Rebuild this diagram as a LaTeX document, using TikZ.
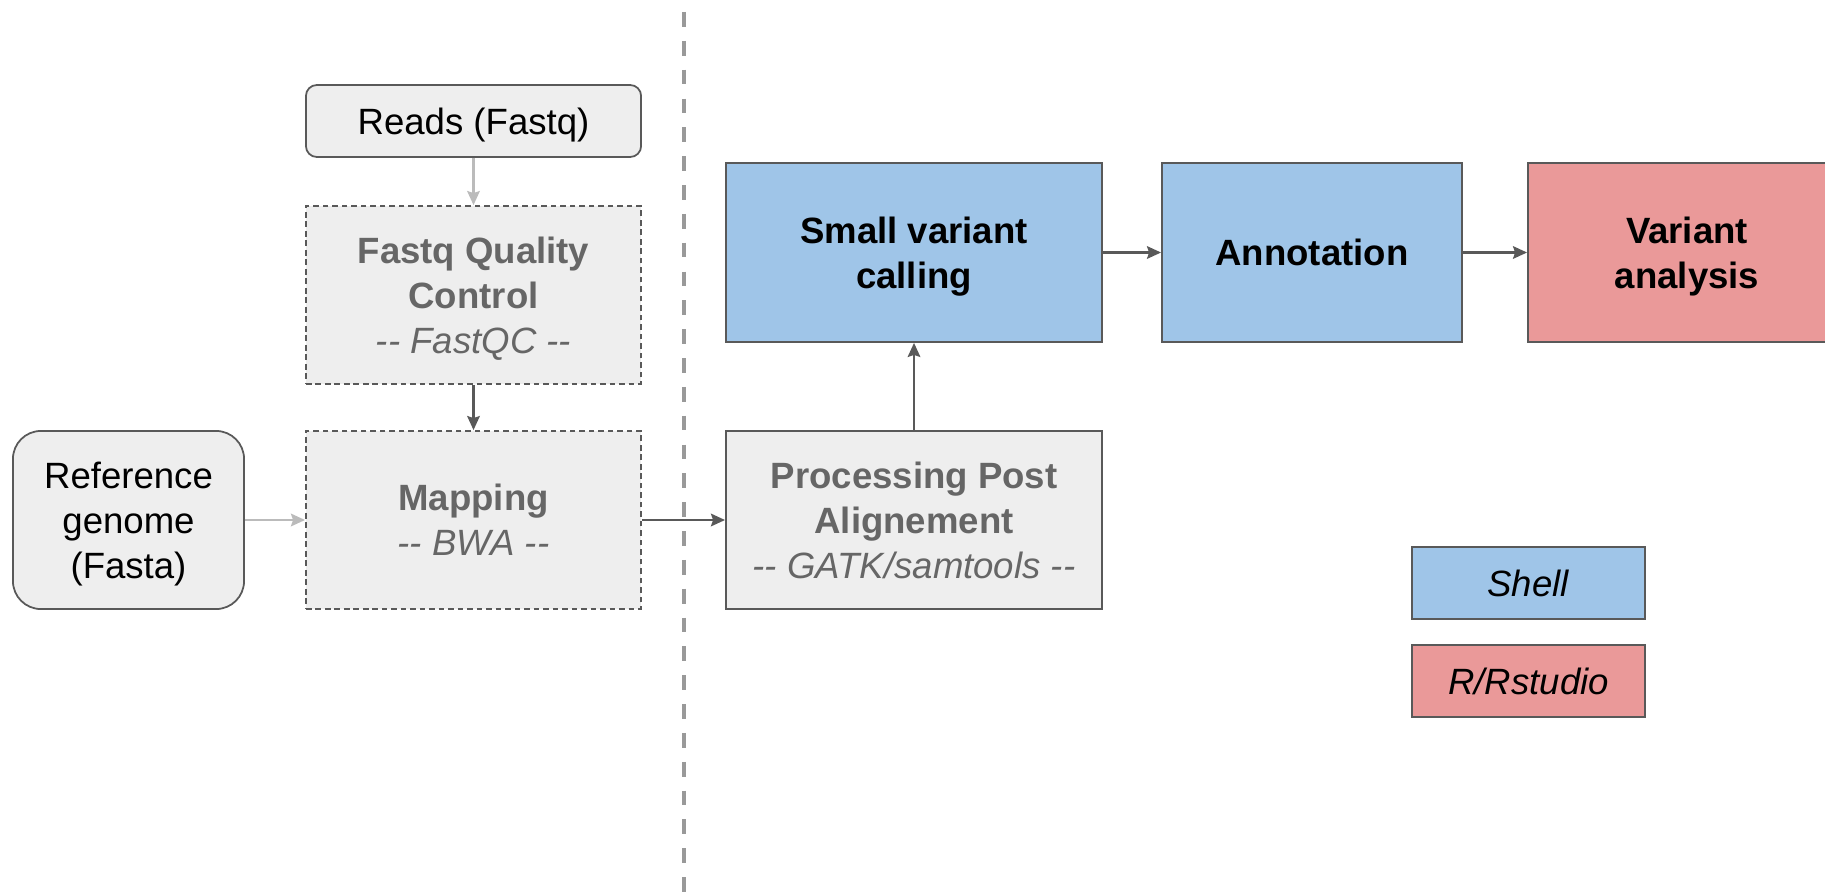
\documentclass[tikz,border=0pt]{standalone}
\usepackage{fontspec}
\setmainfont{Liberation Sans}
\usetikzlibrary{arrows.meta}
\definecolor{boxfill}{HTML}{EEEEEE}
\definecolor{boxline}{HTML}{595959}
\definecolor{fadetext}{HTML}{666666}
\definecolor{shellblue}{HTML}{9FC5E8}
\definecolor{rred}{HTML}{EA9999}
\definecolor{sepgray}{HTML}{999999}
\definecolor{lightarrow}{HTML}{BBBBBB}

\begin{document}
\begin{tikzpicture}[x=0.01cm, y=-0.01cm,
  every node/.style={align=center, inner sep=0pt, text depth=0pt,
    font=\fontsize{10.4}{12.8}\selectfont},
  box/.style={draw=boxline, line width=0.5pt, minimum height=1.78cm},
  tool/.style={box, fill=boxfill, text=fadetext, dash pattern=on 1.6pt off 1.1pt},
  flow/.style={draw=boxline, line width=0.6pt,
    -{Stealth[length=4pt, width=3.6pt, inset=0.6pt]}},
  faint/.style={flow, draw=lightarrow}]
\def\wl{3.35cm}
\def\wr{3.76cm}
\useasboundingbox (0,0) rectangle (1825,894);
\draw[sepgray, line width=1.1pt, dash pattern=on 4.2pt off 4pt] (684,12) -- (684,894);

\node[box, fill=boxfill, rounded corners=0.11cm, minimum width=\wl,
  minimum height=0.72cm] (reads) at (473.5,121) {Reads (Fastq)};
\node[tool, minimum width=\wl] (fqc) at (473.5,295)
  {\textbf{Fastq Quality}\\\textbf{Control}\\\textit{-{}- FastQC -{}-}};
\node[tool, minimum width=\wl] (mapping) at (473.5,520)
  {\textbf{Mapping}\\\textit{-{}- BWA -{}-}};
\node[box, fill=boxfill, rounded corners=0.28cm, minimum width=2.31cm]
  (refgen) at (128.5,520) {Reference\\genome\\(Fasta)};
\node[box, fill=boxfill, text=fadetext, minimum width=\wr] (postalign) at (914,520)
  {\textbf{Processing Post}\\\textbf{Alignement}\\\textit{-{}- GATK/samtools -{}-}};

\node[box, fill=shellblue, minimum width=\wr, minimum height=1.79cm] (calling)
  at (914,252.5) {\textbf{Small variant}\\\textbf{calling}};
\node[box, fill=shellblue, minimum width=3.0cm, minimum height=1.79cm] (annot)
  at (1312,252.5) {\textbf{Annotation}};
\node[box, fill=rred, minimum width=3.18cm, minimum height=1.79cm] (analysis)
  at (1687,252.5) {\textbf{Variant}\\\textbf{analysis}};

\node[box, fill=shellblue, minimum width=2.33cm, minimum height=0.72cm] (shell)
  at (1528.5,583) {\textit{Shell}};
\node[box, fill=rred, minimum width=2.33cm, minimum height=0.72cm] (rstudio)
  at (1528.5,681) {\textit{R/Rstudio}};

\draw[faint] (reads) -- (fqc);
\draw[flow] (fqc) -- (mapping);
\draw[faint] (refgen) -- (mapping);
\draw[flow] (mapping) -- (postalign);
\draw[flow] (postalign) -- (calling);
\draw[flow] (calling) -- (annot);
\draw[flow] (annot) -- (analysis);
\end{tikzpicture}
\end{document}
